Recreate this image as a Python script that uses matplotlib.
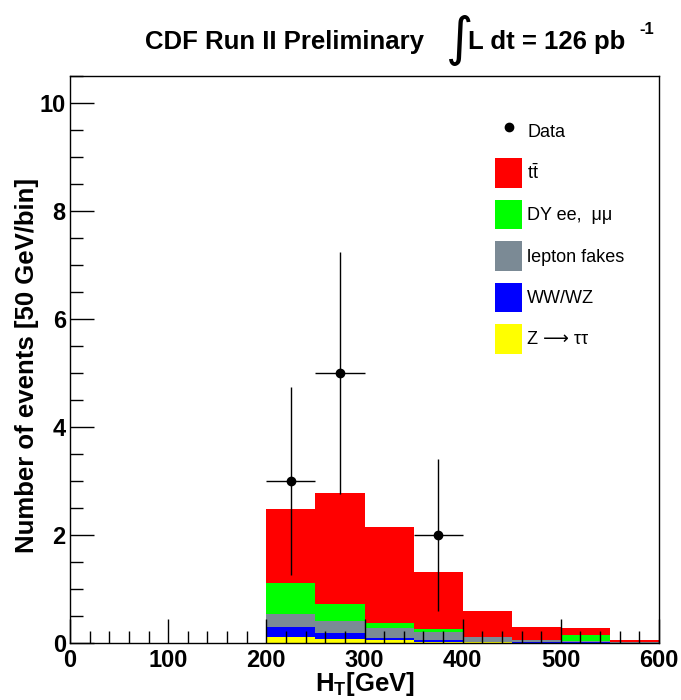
import matplotlib
matplotlib.use("Agg")
import matplotlib.pyplot as plt
from matplotlib.lines import Line2D
from matplotlib.patches import Patch
from matplotlib.ticker import MultipleLocator
import numpy as np

plt.rcParams['font.family'] = ['Liberation Sans', 'DejaVu Sans']
plt.rcParams['mathtext.fontset'] = 'custom'
plt.rcParams['mathtext.rm'] = 'Liberation Sans'
plt.rcParams['mathtext.it'] = 'Liberation Sans:italic'
plt.rcParams['mathtext.bf'] = 'Liberation Sans:bold'

# bin left edges (GeV), 50 GeV bins
bin_edges = [200, 250, 300, 350, 400, 450, 500, 550]

# stacked backgrounds, bottom to top
ztautau = [0.12, 0.08, 0.055, 0.025, 0.01, 0.005, 0.005, 0.0]
wwwz = [0.18, 0.105, 0.045, 0.025, 0.01, 0.005, 0.005, 0.005]
fakes = [0.24, 0.225, 0.18, 0.16, 0.09, 0.045, 0.02, 0.01]
dy = [0.58, 0.32, 0.09, 0.05, 0.0, 0.0, 0.125, 0.0]
ttbar = [1.36, 2.05, 1.77, 1.05, 0.49, 0.245, 0.125, 0.045]

# data points
data_x = [225, 275, 375]
data_y = [3, 5, 2]

components = [
    (ztautau, '#ffff00', 'Z ⟶ ττ'),
    (wwwz, '#0000ff', 'WW/WZ'),
    (fakes, '#7b8a95', 'lepton fakes'),
    (dy, '#00ff00', 'DY ee,  μμ'),
    (ttbar, '#ff0000', r'$\mathrm{t\bar{t}}$'),
]

fig = plt.figure(figsize=(6.81, 7.00), dpi=100)
ax = fig.add_axes([70/681, 57/700, 589/681, 567/700])

bottom = np.zeros(len(bin_edges))
for vals, col, lab in components:
    ax.bar(bin_edges, vals, width=50, bottom=bottom, align='edge',
           color=col, edgecolor='none', linewidth=0)
    bottom += np.array(vals)

# data with poisson errors
ax.errorbar(data_x, data_y, xerr=25, yerr=np.sqrt(data_y), fmt='o',
            color='black', markersize=6, elinewidth=1.0, capsize=0, zorder=5)

ax.set_xlim(0, 600)
ax.set_ylim(0, 10.5)
ax.xaxis.set_major_locator(MultipleLocator(100))
ax.xaxis.set_minor_locator(MultipleLocator(20))
ax.yaxis.set_major_locator(MultipleLocator(2))
ax.yaxis.set_minor_locator(MultipleLocator(0.5))
ax.tick_params(which='both', direction='in', top=False, right=False, width=1.0)
ax.tick_params(which='major', length=17)
ax.tick_params(which='minor', length=9)
ax.tick_params(axis='y', which='major', labelsize=17, pad=3)
ax.tick_params(axis='x', which='major', labelsize=17, pad=4)
for lbl in ax.get_xticklabels() + ax.get_yticklabels():
    lbl.set_fontweight('bold')
for sp in ax.spines.values():
    sp.set_linewidth(1.0)

ax.set_xlabel(r'H$_{\mathbf{T}}$[GeV]', fontsize=18.5, fontweight='bold', labelpad=-1)
ax.set_ylabel('Number of events [50 GeV/bin]', fontsize=18.5, fontweight='bold')
ax.yaxis.set_label_coords(-0.053, 0.489)

# legend
handles = [Line2D([], [], marker='o', color='black', linestyle='none', markersize=6)]
labels = ['Data']
for vals, col, lab in reversed(components):
    handles.append(Patch(facecolor=col, edgecolor='none'))
    labels.append(lab)
fig.legend(handles, labels, loc='upper left', bbox_to_anchor=(495/681, 1 - 117/700),
           frameon=False, fontsize=13, handlelength=1.5, handleheight=2.15,
           labelspacing=0.65, handletextpad=0.28, borderpad=0, borderaxespad=0)

# title
fig.text(145/681, 1 - 42/700, 'CDF Run II Preliminary', fontsize=18.5, fontweight='bold',
         va='center', ha='left')
fig.text(446/681, 1 - 40/700, '∫', fontsize=38, family='DejaVu Sans', va='center', ha='left')
fig.text(468/681, 1 - 42/700, 'L dt = 126 pb', fontsize=18.5, fontweight='bold',
         va='center', ha='left')
fig.text(639/681, 1 - 30/700, '-1', fontsize=12, fontweight='bold', va='center', ha='left')

fig.savefig('out.png', dpi=100)
